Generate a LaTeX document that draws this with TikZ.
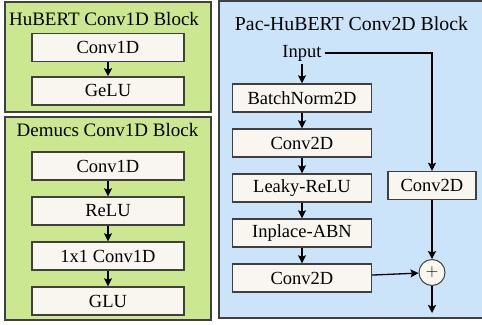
\documentclass[tikz,border=0pt]{standalone}
\usepackage{fontspec}
\setmainfont{Liberation Serif}
\usepackage{xcolor}
\usetikzlibrary{arrows.meta,positioning}
\definecolor{leaf}{HTML}{CBE78F}
\definecolor{sky}{HTML}{CCE4FA}
\definecolor{cream}{HTML}{F8F6EF}
\definecolor{bk80}{HTML}{404040}
\tikzset{
  blockbox/.style={
    rectangle, draw=bk80, fill=#1, line width=1.6bp,
    inner sep=0pt
  },
  blockbox/.default=leaf,
  layerbox/.style={
    rectangle, draw=bk80, fill=cream, line width=1.4bp,
    minimum width=#1, minimum height=28bp,
    font=\rmfamily\fontsize{18.5bp}{20bp}\selectfont, align=center,
    inner sep=0pt
  },
  layerbox/.default=152bp,
  titlenode/.style={
    font=\rmfamily\fontsize{#1}{20bp}\selectfont, inner sep=0pt
  },
  titlenode/.default=19bp,
  dataarrow/.style={
    -{Stealth[length=8bp, width=8bp, inset=1.5bp]}, line width=1.3bp, color=black
  },
  sumnode/.style={
    circle, draw=bk80, fill=cream, line width=1bp,
    minimum size=26bp, inner sep=0pt, font=\rmfamily\fontsize{16bp}{16bp}\selectfont
  },
}
\begin{document}
\begin{tikzpicture}[x=1bp, y=-1bp, node distance=15.6bp and 15.6bp]
  \useasboundingbox (0,0) rectangle (482,324);
  % outer blocks
  \node[blockbox=leaf, minimum width=206bp, minimum height=110bp] (hubert) at (108,57) {};
  \node[blockbox=leaf, minimum width=206bp, minimum height=203bp] (demucs) at (108,218.5) {};
  \node[blockbox=sky, minimum width=278bp, minimum height=317bp] (pac) at (358,159.5) {};
  \node[titlenode] (thubert) at (104,19) {HuBERT Conv1D Block};
  \node[titlenode] (tdemucs) at (107.5,130) {Demucs Conv1D Block};
  \node[titlenode=19.8bp] (tpac) at (351.5,24) {Pac-HuBERT Conv2D Block};
  % HuBERT layers
  \node[layerbox] (h1) at (108,47.5) {Conv1D};
  \node[layerbox, below=14bp of h1] (h2) {GeLU};
  \draw[dataarrow] (h1) -- (h2);
  % Demucs layers
  \node[layerbox] (d1) at (108,166) {Conv1D};
  \node[layerbox, below=of d1] (d2) {ReLU};
  \node[layerbox, below=of d2] (d3) {1x1 Conv1D};
  \node[layerbox, below=of d3] (d4) {GLU};
  \draw[dataarrow] (d1) -- (d2);
  \draw[dataarrow] (d2) -- (d3);
  \draw[dataarrow] (d3) -- (d4);
  % Pac-HuBERT layers
  \node[titlenode=18.5bp, inner sep=3bp] (input) at (302,53) {Input};
  \node[layerbox=139bp] (p1) at (302,98) {BatchNorm2D};
  \node[layerbox=139bp, below=of p1] (p2) {Conv2D};
  \node[layerbox=139bp, below=of p2] (p3) {Leaky-ReLU};
  \node[layerbox=139bp, below=of p3] (p4) {Inplace-ABN};
  \node[layerbox=139bp, below=of p4] (p5) {Conv2D};
  \node[layerbox=88bp] (skip) at (432,185.5) {Conv2D};
  \node[sumnode] (sum) at (432,272.5) {$+$};
  \coordinate (out) at (432,313);
  \draw[dataarrow] (input) -- (p1);
  \draw[dataarrow] (p1) -- (p2);
  \draw[dataarrow] (p2) -- (p3);
  \draw[dataarrow] (p3) -- (p4);
  \draw[dataarrow] (p4) -- (p5);
  \draw[dataarrow] (input.east) -| (skip.north);
  \draw[dataarrow] (skip) -- (sum);
  \draw[dataarrow] (p5) -- (sum);
  \draw[dataarrow] (sum) -- (out);
\end{tikzpicture}
\end{document}
